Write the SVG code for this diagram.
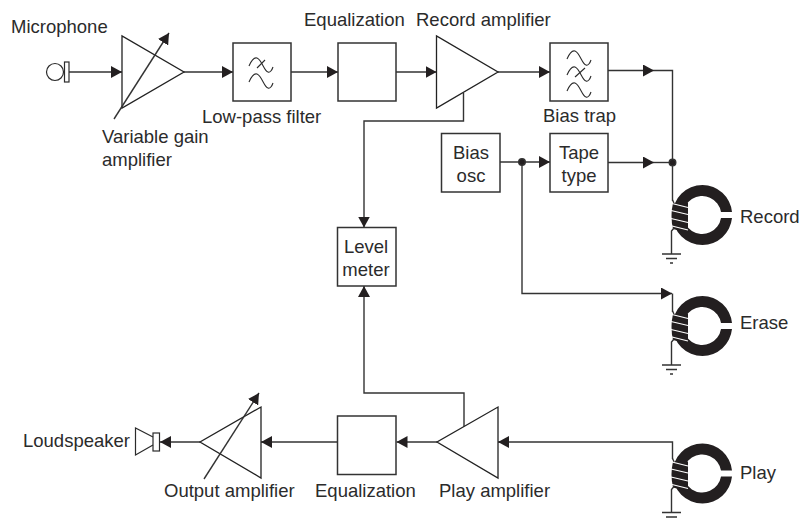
<svg xmlns="http://www.w3.org/2000/svg" xmlns:xlink="http://www.w3.org/1999/xlink" width="809" height="520" viewBox="0 0 809 520">
<style>
text{font-family:"Liberation Sans",Arial,sans-serif;font-size:18.5px;fill:#2b2b2b}
.m{text-anchor:middle}
.s{fill:#fff;stroke:#333;stroke-width:1.5}
.t{fill:#fff;stroke:#222;stroke-width:1.3}
.w{fill:none;stroke:#2b2b2b;stroke-width:1.1}
.c{fill:none;stroke:#333;stroke-width:1.4}
.g{fill:none;stroke:#2b2b2b;stroke-width:1.2}
</style>
<defs>
<marker id="a" markerUnits="userSpaceOnUse" markerWidth="11" markerHeight="12" refX="11" refY="6" orient="auto"><path d="M0,0L11,6L0,12Z" fill="#231f20"/></marker>
<path id="wave" d="M0,9C3,2 5,0 8,1C13,3 15,14 19,15C21,16 23,13 24,10"/>
<g id="head">
<path d="M702.5,185A30,30 0 0 0 702.5,245A30,30 0 0 0 732,218L721,218A19,19 0 1 1 721,212L732,212A30,30 0 0 0 702.5,185Z" fill="#231f20"/>
<path d="M673,203L688,203L688,233L673,229Q670,216 673,203Z" fill="#231f20"/>
<g stroke="#fff" stroke-width="1.100"><path d="M672,203.500L688,207.500M671,210.500L688,214.500M671,218.500L688,222.500M672,226L688,230"/></g>
<path class="c" d="M672.500,200L674,203M674,228L671.500,231V254M662,254H681"/>
<path class="c" d="M666,258.500H677M670,263H673"/>
</g>
</defs>
<g id="connectors" class="c">
<path class="c" d="M69,72H122" marker-end="url(#a)"/>
<path class="c" d="M184,72H233" marker-end="url(#a)"/>
<path class="c" d="M291,72H338" marker-end="url(#a)"/>
<path class="c" d="M396,72H436.500" marker-end="url(#a)"/>
<path class="c" d="M498,72H550" marker-end="url(#a)"/>
<path class="c" d="M608,70.500H654" marker-end="url(#a)"/>
<path class="c" d="M654,70.500H672.500V201"/>
<path class="c" d="M500,162H550" marker-end="url(#a)"/>
<path class="c" d="M608,162.500H654" marker-end="url(#a)"/>
<path class="c" d="M654,162.500H672"/>
<path class="c" d="M522,162V293.500H672" marker-end="url(#a)"/>
<path class="c" d="M672.500,293.500V312"/>
<path class="c" d="M463.500,93V121H364V227.500" marker-end="url(#a)"/>
<path class="c" d="M464,427V393H364V286" marker-end="url(#a)"/>
<path class="c" d="M672.500,459V442H498" marker-end="url(#a)"/>
<path class="c" d="M437,442H396.500" marker-end="url(#a)"/>
<path class="c" d="M337.500,442H261" marker-end="url(#a)"/>
<path class="c" d="M200,442H160" marker-end="url(#a)"/>
<circle cx="522" cy="162" r="3.300" fill="#231f20"/>
<circle cx="672.500" cy="162.500" r="3.300" fill="#231f20"/>
</g>
<g id="microphone"><circle class="g" cx="55" cy="72" r="8.500"/><rect class="g" x="64.500" y="62" width="4.500" height="20"/><text x="11" y="33">Microphone</text></g>
<g id="variable-gain-amplifier"><path class="t" d="M122,36V108L184,72Z"/><path class="c" d="M114,119L169,33" marker-end="url(#a)"/><text x="102" y="143">Variable gain</text><text x="102" y="166">amplifier</text></g>
<g id="low-pass-filter"><rect class="s" x="233" y="43" width="58" height="58"/><use href="#wave" class="w" x="249" y="57"/><use href="#wave" class="w" x="249" y="73"/><path class="w" d="M257,68L265,60"/><text x="202" y="123">Low-pass filter</text></g>
<g id="equalization-record"><rect class="s" x="338" y="43" width="58" height="58"/><text x="304" y="26">Equalization</text></g>
<g id="record-amplifier"><path class="t" d="M436.500,36V108L498,72Z"/><text x="416" y="26">Record amplifier</text></g>
<g id="bias-trap"><rect class="s" x="550" y="43" width="58" height="58"/><use href="#wave" class="w" x="567" y="50"/><use href="#wave" class="w" x="567" y="66"/><use href="#wave" class="w" x="567" y="82"/><path class="w" d="M575,77L585,68"/><text x="543" y="122">Bias trap</text></g>
<g id="bias-osc"><rect class="s" x="441.500" y="133.500" width="58.500" height="58.500"/><text class="m" x="471" y="159">Bias</text><text class="m" x="471" y="182">osc</text></g>
<g id="tape-type"><rect class="s" x="550" y="133.500" width="58" height="58.500"/><text class="m" x="579" y="159">Tape</text><text class="m" x="579" y="182">type</text></g>
<g id="level-meter"><rect class="s" x="337.500" y="227.500" width="58.500" height="58.500"/><text class="m" x="366" y="253">Level</text><text class="m" x="366" y="276">meter</text></g>
<g id="record-head"><use href="#head"/><text x="740" y="222.500">Record</text></g>
<g id="erase-head"><use href="#head" y="111"/><text x="740" y="329">Erase</text></g>
<g id="play-head"><use href="#head" y="258.500"/><text x="740" y="479">Play</text></g>
<g id="play-amplifier"><path class="t" d="M498,407V478L437,442Z"/><text x="439" y="497">Play amplifier</text></g>
<g id="equalization-play"><rect class="s" x="337.500" y="416" width="58.500" height="58.500"/><text x="315" y="497">Equalization</text></g>
<g id="output-amplifier"><path class="t" d="M261,407V478L200,442Z"/><path class="c" d="M204,479L259,393" marker-end="url(#a)"/><text x="164" y="497">Output amplifier</text></g>
<g id="loudspeaker"><path class="g" d="M153,437L135.500,428V455L153,445"/><rect class="g" x="153" y="433" width="6.500" height="18"/><text x="23" y="447">Loudspeaker</text></g>
</svg>
